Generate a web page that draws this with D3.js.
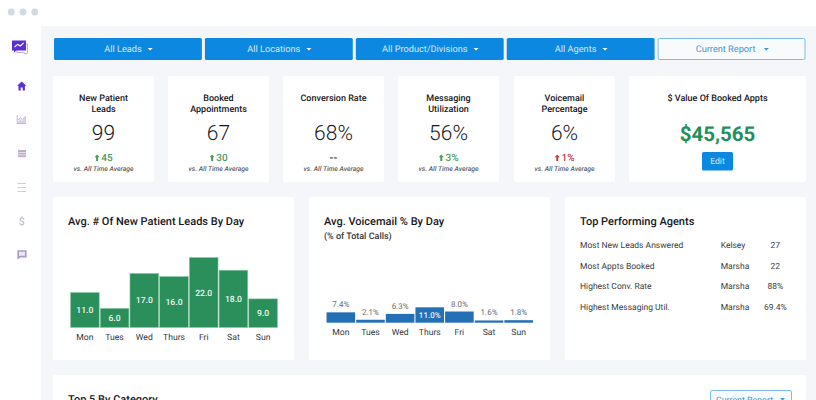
<!DOCTYPE html>
<html>
<head>
<meta charset="utf-8">
<script src="https://cdn.jsdelivr.net/npm/d3@7"></script>
<style>
  html, body { margin: 0; padding: 0; background: #fff; overflow: hidden; }
  svg { display: block; font-family: Roboto, sans-serif; text-rendering: geometricPrecision; }
</style>
</head>
<body>
<svg id="dash" width="816" height="400"></svg>
<script>
// Data
const filterLabels = ["All Leads", "All Locations", "All Product/Divisions", "All Agents", "Current Report"];

const kpiTitles = [["New Patient", "Leads"], ["Booked", "Appointments"], ["Conversion Rate"], ["Messaging", "Utilization"], ["Voicemail", "Percentage"]];
const kpiValues = ["99", "67", "68%", "56%", "6%"];
const kpiChanges = ["45", "30", "--", "3%", "1%"];
const kpiDirections = ["good", "good", "none", "good", "bad"];

const days = ["Mon", "Tues", "Wed", "Thurs", "Fri", "Sat", "Sun"];
const leadsByDay = [11, 6, 17, 16, 22, 18, 9];
const voicemailByDay = [7.4, 2.1, 6.3, 11, 8, 1.6, 1.8];

const agentCategories = ["Most New Leads Answered", "Most Appts Booked", "Highest Conv. Rate", "Highest Messaging Util."];
const agentNames = ["Kelsey", "Marsha", "Marsha", "Marsha"];
const agentScores = ["27", "22", "88%", "69.4%"];

const BLUE = "#0d88e0", GREEN = "#2a8f5b", INK = "#17181c";
const svg = d3.select("#dash");

// little helper for text
function label(g, x, y, str, size, opts) {
    opts = opts || {};
    return g.append("text").attr("x", x).attr("y", y).text(str)
        .attr("font-size", size)
        .attr("text-anchor", opts.anchor || "middle")
        .attr("font-weight", opts.weight || 400)
        .attr("font-style", opts.style || "normal")
        .attr("fill", opts.fill || INK);
}

function card(x, y, w, h) {
    svg.append("rect").attr("x", x).attr("y", y).attr("width", w).attr("height", h)
        .attr("rx", 2).attr("fill", "#fff");
}

// page background, window bar, sidebar
svg.append("rect").attr("width", 816).attr("height", 400).attr("fill", "#f4f6f9");
svg.append("rect").attr("width", 816).attr("height", 26).attr("fill", "#fff");
svg.append("rect").attr("y", 26).attr("width", 41).attr("height", 374).attr("fill", "#fff");
[11.2, 23, 34.7].forEach(function (cx) {
    svg.append("circle").attr("cx", cx).attr("cy", 12).attr("r", 3.4).attr("fill", "#d3d9e1");
});

// sidebar icons
const side = svg.append("g");
side.append("path").attr("d", "M17 44h10.5v8.5l-1 1.5-3-1.5H17z").attr("fill", "#fff").attr("stroke", "#b9a8e6").attr("stroke-width", 1);
side.append("path").attr("d", "M12 40.5h14v10h-9.5l-2.5 2v-2h-2z").attr("fill", "#5b30d0");
side.append("path").attr("d", "M14.5 47l3.2-2.6 2.6 1.6 3.4-3.2").attr("fill", "none").attr("stroke", "#fff").attr("stroke-width", 1.1);
side.append("path").attr("d", "M21.7 81.5l4.6 4.3h-1.4v4.6h-2.2v-2.9h-2v2.9h-2.2v-4.6h-1.4z").attr("fill", "#5b30d0");
side.append("path").attr("d", "M17.5 123.5l2-5 2.5 2.5 4-5v7.5z").attr("fill", "#d8cfe4");
side.append("path").attr("d", "M17.2 115v8.6h9M17.8 120l2.4-2.4 2.2 2 3.4-3.6").attr("fill", "none").attr("stroke", "#b5a7cf").attr("stroke-width", 0.8);
[150, 152.6, 155.2].forEach(function (y) {
    side.append("rect").attr("x", 18).attr("y", y).attr("width", 8).attr("height", 2).attr("fill", "#bdaecd");
});
[183.5, 187.5, 191.5].forEach(function (y) {
    side.append("rect").attr("x", 17.5).attr("y", y - 0.5).attr("width", 8.5).attr("height", 1).attr("fill", "#d3cbe1");
});
label(side, 21.7, 225, "$", 10.5, { fill: "#b9b2c7" });
side.append("path").attr("d", "M18.2 251h7.6v5.6h-5.4l-2.2 1.4z").attr("fill", "#ece7f2").attr("stroke", "#a99cc0").attr("stroke-width", 1.6);

// filter buttons
const btnScale = d3.scaleBand().domain(filterLabels).range([54, 805.5]).paddingInner(0.02);
filterLabels.forEach(function (name, i) {
    const x = btnScale(name), w = btnScale.bandwidth(), outline = i === 4;
    svg.append("rect").attr("x", x + (outline ? 0.5 : 0)).attr("y", outline ? 38.5 : 38)
        .attr("width", outline ? w - 1 : w).attr("height", outline ? 21 : 22).attr("rx", 1.5)
        .attr("fill", outline ? "#f8fafc" : BLUE).attr("stroke", outline ? "#7dbce8" : "none");
    const txt = outline ? "#3f95d6" : "#d5e9fa";
    const cx = x + w / 2 - (outline ? 6 : 5);
    const t = label(svg, cx, 52, name, 9.2, { fill: txt });
    const end = cx + t.node().getComputedTextLength() / 2 + 6 + (outline ? 2.5 : 0);
    svg.append("path").attr("d", `M${end} 48h5l-2.5 2.6z`).attr("fill", outline ? "#3f95d6" : "#fff");
});

// KPI cards
const kpiX = [53, 168, 283, 398, 514];
kpiValues.forEach(function (val, i) {
    const x = kpiX[i], cx = x + 50.5;
    card(x, 76, 101, 106);
    kpiTitles[i].forEach(function (line, j) {
        label(svg, cx, 101.4 + j * 10.4, line, 9, { weight: 500 });
    });
    label(svg, cx, 140, val, 21, { weight: 300 });
    const dir = kpiDirections[i];
    const col = dir === "bad" ? "#c0413f" : "#4f9a5e";
    if (dir === "none") {
        label(svg, cx, 160.5, kpiChanges[i], 10, { weight: 700, fill: "#333" });
    } else {
        const t = label(svg, cx + 3.5, 161, kpiChanges[i], 10, { weight: 500, fill: col });
        const left = cx + 3.5 - t.node().getComputedTextLength() / 2 - 4.2;
        svg.append("path").attr("d", `M${left} 154.5l-2.6 2.8h1.6v3.6h2v-3.6h1.6z`).attr("fill", col);
    }
    label(svg, cx, 170.6, "vs. All Time Average", 6.8, { style: "italic", weight: 500, fill: "#5b5d62" });
});

// $ value card
card(629, 76, 177, 106);
label(svg, 717.5, 101.4, "$ Value Of Booked Appts", 9, { weight: 500 });
label(svg, 717.5, 140.5, "$45,565", 20.5, { weight: 700, fill: "#1f9158" });
svg.append("rect").attr("x", 702).attr("y", 152).attr("width", 31).attr("height", 18.5).attr("rx", 1.5).attr("fill", BLUE);
label(svg, 717.5, 164, "Edit", 8.6, { fill: "#d5e9fa" });

// chart cards
card(53, 197, 241, 163);
card(309, 197, 241, 163);
card(565, 197, 241, 163);
card(53, 375, 753, 30);

// leads by day
label(svg, 68, 225, "Avg. # Of New Patient Leads By Day", 11, { anchor: "start", weight: 500 });
const xLeads = d3.scaleBand().domain(days).range([69.5, 278.5]).padding(0.035);
const yLeads = d3.scaleLinear().domain([0, 22]).range([327.5, 257.5]);
const gLeads = svg.append("g");
gLeads.selectAll("rect").data(leadsByDay).join("rect")
    .attr("x", (d, i) => xLeads(days[i])).attr("y", d => yLeads(d))
    .attr("width", xLeads.bandwidth()).attr("height", d => yLeads(0) - yLeads(d))
    .attr("fill", GREEN).attr("stroke", "#8cc9a6").attr("stroke-width", 0.6);
gLeads.selectAll("text.val").data(leadsByDay).join("text").attr("class", "val")
    .attr("x", (d, i) => xLeads(days[i]) + xLeads.bandwidth() / 2)
    .attr("y", d => (yLeads(d) + yLeads(0)) / 2 + 3)
    .attr("text-anchor", "middle").attr("font-size", 8.6).attr("font-weight", 500).attr("fill", "#eef7f1")
    .text(d => d.toFixed(1));
const axisLeads = svg.append("g").attr("transform", "translate(0,327.5)")
    .call(d3.axisBottom(xLeads).tickSize(0).tickPadding(6));
axisLeads.select(".domain").remove();
axisLeads.selectAll("text").attr("font-size", 8.6).attr("font-family", "Roboto, sans-serif").attr("fill", "#33353a");

// voicemail by day
label(svg, 324, 225, "Avg. Voicemail % By Day", 11, { anchor: "start", weight: 500 });
label(svg, 324, 238.5, "(% of Total Calls)", 9, { anchor: "start", weight: 500, fill: "#33353a" });
const xVm = d3.scaleBand().domain(days).range([325.5, 534]).padding(0.035);
const yVm = d3.scaleLinear().domain([0, 11]).range([322.7, 307.3]);
const gVm = svg.append("g");
gVm.selectAll("rect").data(voicemailByDay).join("rect")
    .attr("x", (d, i) => xVm(days[i])).attr("y", d => yVm(d))
    .attr("width", xVm.bandwidth()).attr("height", d => yVm(0) - yVm(d))
    .attr("fill", "#2470b6");
gVm.selectAll("text.val").data(voicemailByDay).join("text").attr("class", "val")
    .attr("x", (d, i) => xVm(days[i]) + xVm.bandwidth() / 2)
    .attr("y", d => d === 11 ? yVm(d) + 10.6 : yVm(d) - 5)
    .attr("text-anchor", "middle").attr("font-size", 8)
    .attr("fill", d => d === 11 ? "#e6f1fa" : "#6b6d72")
    .attr("font-weight", d => d === 11 ? 500 : 400)
    .text(d => d.toFixed(1) + "%");
const axisVm = svg.append("g").attr("transform", "translate(0,322.7)")
    .call(d3.axisBottom(xVm).tickSize(0).tickPadding(6));
axisVm.select(".domain").remove();
axisVm.selectAll("text").attr("font-size", 8.6).attr("font-family", "Roboto, sans-serif").attr("fill", "#33353a");

// top performing agents
label(svg, 580, 225, "Top Performing Agents", 11, { anchor: "start", weight: 500 });
agentCategories.forEach(function (cat, i) {
    const y = 248 + i * 20.6;
    label(svg, 580, y, cat, 8.5, { anchor: "start", fill: "#3a3c41" });
    label(svg, 720.7, y, agentNames[i], 8.5, { anchor: "start", fill: "#3a3c41" });
    label(svg, 775.3, y, agentScores[i], 8.5, { fill: "#3a3c41" });
});

// bottom card, cut off by the window like the reference
label(svg, 68, 403, "Top 5 By Category", 11, { anchor: "start", weight: 500 });
svg.append("rect").attr("x", 710.5).attr("y", 390.5).attr("width", 81).attr("height", 20).attr("rx", 1.5)
    .attr("fill", "#f8fafc").attr("stroke", "#7dbce8");
label(svg, 744.5, 402.5, "Current Report", 8.8, { fill: "#3f95d6" });
svg.append("path").attr("d", "M780 398h5l-2.5 2.6z").attr("fill", "#3f95d6");
</script>
</body>
</html>
